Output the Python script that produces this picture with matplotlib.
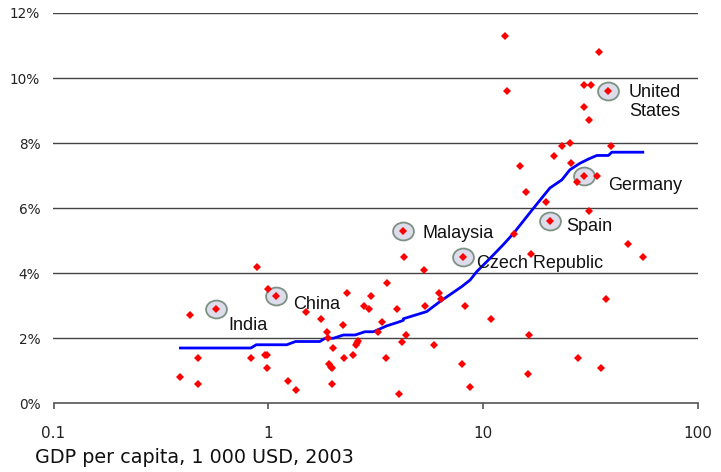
import matplotlib
matplotlib.use("Agg")
import matplotlib.pyplot as plt
from matplotlib.path import Path
from matplotlib.transforms import Affine2D
from matplotlib.ticker import FixedLocator, FixedFormatter, NullLocator

# GDP per capita (1 000 USD, 2003) and growth rate (%) by country
gdp = [0.39, 0.43, 0.47, 0.47, 0.83, 0.89, 0.97, 0.99, 1.0, 0.99,
       1.23, 1.34, 1.50, 1.77, 1.87, 1.89, 2.01, 1.92, 1.95, 1.98,
       1.98, 2.24, 2.32, 2.25, 2.48, 2.55, 2.58, 2.62, 2.79, 2.94,
       3.02, 3.38, 3.26, 3.56, 3.54, 3.97, 4.20, 4.37, 4.05, 4.29,
       5.32, 6.23, 6.38, 5.37, 8.25, 5.94, 8.02, 8.71, 10.9, 16.3,
       16.2, 16.7, 13.9, 14.8, 15.9, 12.7, 12.9, 34.8, 29.5, 31.8,
       29.6, 31.2, 23.3, 25.4, 39.4, 21.4, 25.7, 33.9, 27.5, 19.7,
       31.3, 47.4, 55.5, 37.5, 27.7, 35.4]
growth = [0.8, 2.7, 1.4, 0.6, 1.4, 4.2, 1.5, 1.5, 3.5, 1.1,
          0.7, 0.4, 2.8, 2.6, 2.2, 2.0, 1.7, 1.2, 1.13, 1.08,
          0.6, 2.4, 3.4, 1.4, 1.5, 1.8, 1.86, 1.92, 3.0, 2.9,
          3.3, 2.5, 2.2, 3.7, 1.4, 2.9, 1.9, 2.1, 0.3, 4.5,
          4.1, 3.4, 3.2, 3.0, 3.0, 1.8, 1.2, 0.5, 2.6, 2.1,
          0.9, 4.6, 5.2, 7.3, 6.5, 11.3, 9.6, 10.8, 9.8, 9.8,
          9.1, 8.7, 7.9, 8.0, 7.9, 7.6, 7.4, 7.0, 6.8, 6.2,
          5.9, 4.9, 4.5, 3.2, 1.4, 1.1]

# Highlighted countries
hl_names = ["India", "China", "Malaysia", "Czech Republic", "Spain", "Germany", "United\nStates"]
hl_gdp = [0.57, 1.09, 4.23, 8.08, 20.5, 29.6, 38.2]
hl_growth = [2.9, 3.3, 5.3, 4.5, 5.6, 7.0, 9.6]
# label offsets (pixels, to the last line's baseline) from each highlighted point
hl_dx = [13, 17, 20, 14, 16, 24, 21]
hl_dy = [-21, -13, -7, -11, -10, -14, -25]

# Trend line
trend_gdp = [0.39, 0.83, 0.88, 1.22, 1.34, 1.74, 1.84, 2.01, 2.24, 2.54,
             2.82, 3.09, 3.56, 3.97, 4.26, 4.26, 5.47, 6.31, 7.97, 8.71,
             9.36, 10.8, 12.4, 13.9, 17.2, 20.5, 23.3, 25.4, 28.3, 31.0,
             33.9, 38.4, 39.8, 55.5]
trend_growth = [1.7, 1.7, 1.8, 1.8, 1.9, 1.9, 2.0, 2.0, 2.1, 2.1,
                2.2, 2.2, 2.38, 2.48, 2.55, 2.6, 2.82, 3.13, 3.59, 3.79,
                4.05, 4.46, 4.87, 5.23, 6.0, 6.62, 6.87, 7.18, 7.38, 7.51,
                7.62, 7.62, 7.72, 7.72]

x_ticks = [0.1, 1, 10, 100]
x_tick_labels = ["0.1", "1", "10", "100"]
y_ticks = [0, 2, 4, 6, 8, 10, 12]
y_tick_labels = ["0%", "2%", "4%", "6%", "8%", "10%", "12%"]

plt.rcParams["font.family"] = ["Liberation Sans", "DejaVu Sans"]
axis_font = "DejaVu Sans"

fig = plt.figure(figsize=(7.21, 4.72), dpi=100)
ax = fig.add_axes([53.5 / 721, 1 - 403.3 / 472, (697.7 - 53.5) / 721, (403.3 - 13) / 472])

ax.set_xscale("log")
ax.set_xlim(0.1, 100)
ax.set_ylim(0, 12)

for s in ["left", "right", "top"]:
    ax.spines[s].set_visible(False)
ax.spines["bottom"].set_color("#555555")
ax.spines["bottom"].set_linewidth(1.2)

ax.xaxis.set_major_locator(FixedLocator(x_ticks))
ax.xaxis.set_major_formatter(FixedFormatter(x_tick_labels))
ax.xaxis.set_minor_locator(NullLocator())
ax.set_yticks(y_ticks)
ax.set_yticklabels(y_tick_labels)
ax.tick_params(axis="x", length=6 * 0.72, width=1.2, color="#555555",
               labelsize=11, labelcolor="#222222", pad=12)
ax.tick_params(axis="y", length=0, labelsize=9.8, labelcolor="#222222", pad=9.5)
for lbl in ax.get_xticklabels() + ax.get_yticklabels():
    lbl.set_fontfamily(axis_font)

for yv in y_ticks[1:]:
    ax.axhline(yv, color="#444444", lw=1.0, zorder=1)

# Slightly flattened circle marker for highlighted countries
ellipse = Path.unit_circle().transformed(Affine2D().scale(1.0, 0.86))
ax.plot(hl_gdp, hl_growth, linestyle="none", marker=ellipse, markersize=15,
        markerfacecolor="#dcdcea", markeredgecolor="#7d9184", markeredgewidth=1.3, zorder=3)

ax.plot(trend_gdp, trend_growth, color="#0000ff", lw=2.0, zorder=2)

ax.plot(gdp + hl_gdp, growth + hl_growth, linestyle="none", marker="D", markersize=4.2,
        color="#ff0000", markeredgewidth=0, zorder=4)

for name, gx, gy, dx, dy in zip(hl_names, hl_gdp, hl_growth, hl_dx, hl_dy):
    ax.annotate(name, (gx, gy), xytext=(dx, dy), textcoords="offset pixels",
                ha="left", va="baseline", fontsize=13, color="#111111",
                linespacing=1.15, zorder=5)

fig.text(35 / 721, 9 / 472, "GDP per capita, 1 000 USD, 2003", fontsize=13.8,
         family=axis_font, color="#111111", ha="left", va="baseline")

fig.savefig("out.png", dpi=100)
